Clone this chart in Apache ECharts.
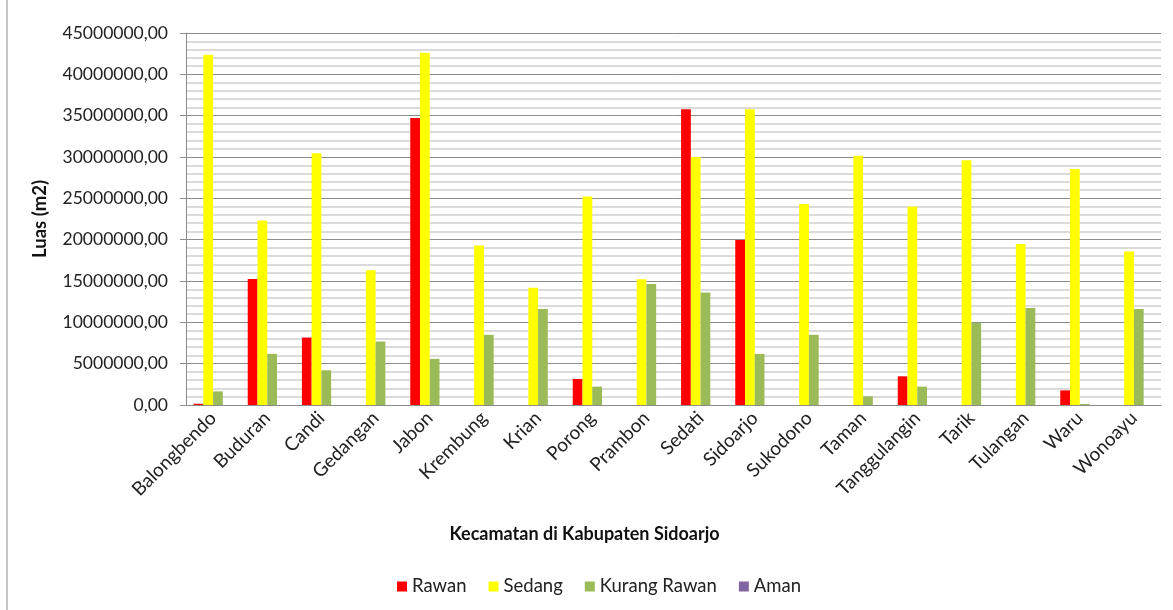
<!DOCTYPE html>
<html>
<head>
<meta charset="utf-8">
<script src="https://cdn.jsdelivr.net/npm/echarts@6/dist/echarts.min.js"></script>
<style>
  html, body { margin: 0; padding: 0; background: #fff; }
  #chart { width: 1173px; height: 610px; }
</style>
</head>
<body>
<div id="chart"></div>
<script>
// kecamatan (categories)
const kecamatan = ['Balongbendo', 'Buduran', 'Candi', 'Gedangan', 'Jabon', 'Krembung', 'Krian', 'Porong', 'Prambon',
  'Sedati', 'Sidoarjo', 'Sukodono', 'Taman', 'Tanggulangin', 'Tarik', 'Tulangan', 'Waru', 'Wonoayu'];

// luas per kelas (m2)
const rawan = [150000, 15240000, 8160000, 0, 34730000, 0, 0, 3150000, 0,
  35780000, 19970000, 0, 0, 3470000, 0, 0, 1770000, 0];
const sedang = [42370000, 22320000, 30450000, 16290000, 42610000, 19290000, 14190000, 25230000, 15200000,
  30000000, 35780000, 24300000, 30160000, 24020000, 29600000, 19480000, 28540000, 18560000];
const kurangRawan = [1650000, 6180000, 4200000, 7680000, 5580000, 8490000, 11600000, 2220000, 14630000,
  13620000, 6180000, 8490000, 1050000, 2220000, 9940000, 11720000, 120000, 11600000];
const aman = [0, 0, 0, 0, 0, 0, 0, 0, 0, 0, 0, 0, 0, 0, 0, 0, 0, 0];

const fontName = 'Lato, "Open Sans", sans-serif';

const chart = echarts.init(document.getElementById('chart'));

function mkSeries(name, data, color) {
  return {
    name: name,
    type: 'bar',
    data: data,
    barGap: '0%',
    barCategoryGap: '28%',
    itemStyle: { color: color },
    animation: false
  };
}

const option = {
  backgroundColor: '#fff',
  textStyle: { fontFamily: fontName },
  graphic: [{
    type: 'rect',
    shape: { x: 7, y: -2, width: 1180, height: 620 },
    style: { fill: 'none', stroke: '#8c8c8c', lineWidth: 1 },
    silent: true
  }],
  grid: { left: 186, right: 12, top: 33, bottom: 205 },
  legend: {
    bottom: 9,
    left: 392,
    itemWidth: 10,
    itemHeight: 10,
    itemGap: 22,
    icon: 'rect',
    textStyle: { fontSize: 18.5, color: '#222', fontFamily: fontName },
    data: ['Rawan', 'Sedang', 'Kurang Rawan', 'Aman']
  },
  xAxis: {
    type: 'category',
    data: kecamatan,
    name: 'Kecamatan di Kabupaten Sidoarjo',
    nameLocation: 'middle',
    nameGap: 120,
    nameTextStyle: { fontSize: 18, fontWeight: 'bold', color: '#111', fontFamily: fontName, padding: [0, 178, 0, 0] },
    axisLine: { lineStyle: { color: '#8c8c8c' } },
    axisTick: { show: false },
    axisLabel: { rotate: 45, fontSize: 19, color: '#222', margin: 10, interval: 0, fontFamily: fontName }
  },
  yAxis: {
    type: 'value',
    min: 0,
    max: 45000000,
    interval: 5000000,
    name: 'Luas (m2)',
    nameLocation: 'middle',
    nameGap: 136,
    nameTextStyle: { fontSize: 18.5, fontWeight: 'bold', color: '#111', fontFamily: fontName },
    axisLine: { show: true, lineStyle: { color: '#8c8c8c' } },
    axisTick: { show: true, length: 6, lineStyle: { color: '#8c8c8c' } },
    axisLabel: {
      fontSize: 17.5,
      color: '#222',
      margin: 18,
      fontFamily: fontName,
      formatter: function (v) { return v.toFixed(2).replace('.', ','); }
    },
    splitLine: { show: true, lineStyle: { color: '#8c8c8c', width: 1 } },
    minorTick: { show: false, splitNumber: 5 },
    minorSplitLine: { show: true, lineStyle: { color: '#cfcfcf', width: 1.5 } }
  },
  series: [
    mkSeries('Rawan', rawan, '#ff0000'),
    mkSeries('Sedang', sedang, '#ffff00'),
    mkSeries('Kurang Rawan', kurangRawan, '#9bbb59'),
    mkSeries('Aman', aman, '#8064a2')
  ]
};

chart.setOption(option);
window.addEventListener('resize', function () { chart.resize(); });
</script>
</body>
</html>
